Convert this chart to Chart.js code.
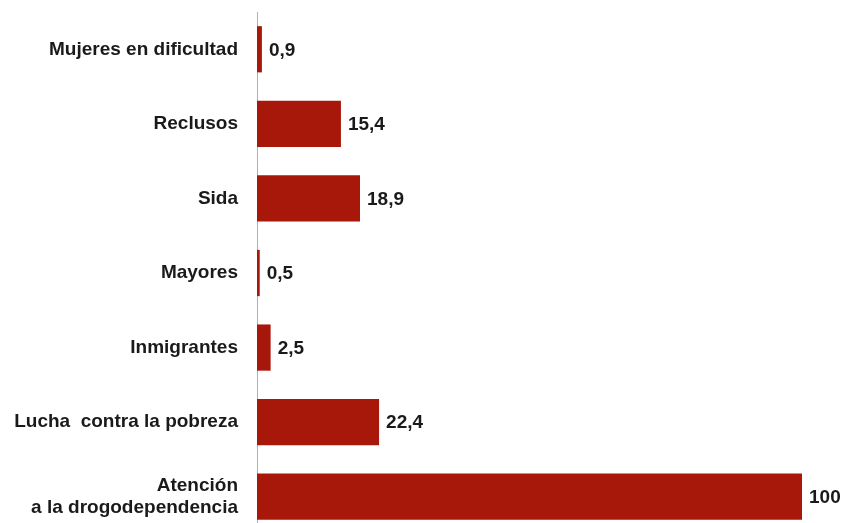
<!DOCTYPE html>
<html>
<head>
<meta charset="utf-8">
<script src="https://cdn.jsdelivr.net/npm/chart.js@4"></script>
<style>
  html, body { margin: 0; padding: 0; background: #fff; overflow: hidden; }
  canvas { display: block; }
</style>
</head>
<body>
<canvas id="chart" width="846" height="535"></canvas>
<script>
// categories and values
const categories = [
  'Mujeres en dificultad',
  'Reclusos',
  'Sida',
  'Mayores',
  'Inmigrantes',
  'Lucha  contra la pobreza',
  ['Atención', 'a la drogodependencia']
];
const values = [0.9, 15.4, 18.9, 0.5, 2.5, 22.4, 100];

const fontFamily = '"Liberation Sans", Arial, Helvetica, sans-serif';

// draw the value next to each bar
const valueLabels = {
  id: 'valueLabels',
  afterDatasetsDraw(chart) {
    const ctx = chart.ctx;
    const meta = chart.getDatasetMeta(0);
    ctx.save();
    ctx.font = 'bold 19px ' + fontFamily;
    ctx.fillStyle = '#1a1a1a';
    ctx.textAlign = 'left';
    ctx.textBaseline = 'middle';
    meta.data.forEach((bar, i) => {
      const txt = String(values[i]).replace('.', ',');
      ctx.fillText(txt, bar.x + 7, bar.y + 1);
    });
    ctx.restore();
  }
};

new Chart(document.getElementById('chart').getContext('2d'), {
  type: 'bar',
  data: {
    labels: categories,
    datasets: [{
      data: values,
      backgroundColor: '#a8180a',
      borderWidth: 0,
      categoryPercentage: 1,
      barPercentage: 0.62
    }]
  },
  options: {
    indexAxis: 'y',
    responsive: false,
    animation: false,
    layout: { padding: { top: 12, bottom: 1, right: 44, left: 0 } },
    plugins: { legend: { display: false }, tooltip: { enabled: false } },
    scales: {
      x: { min: 0, max: 100, display: false },
      y: {
        grid: { display: false, drawTicks: false },
        border: { display: true, color: '#b0b0b0', width: 1 },
        ticks: {
          padding: 19,
          color: '#1a1a1a',
          font: { family: fontFamily, size: 19, weight: 'bold', lineHeight: 1.15 }
        },
        afterFit(scale) {
          scale.width = 257;
          scale.paddingTop = 0;
          scale.paddingBottom = 0;
        }
      }
    }
  },
  plugins: [valueLabels]
});
</script>
</body>
</html>
